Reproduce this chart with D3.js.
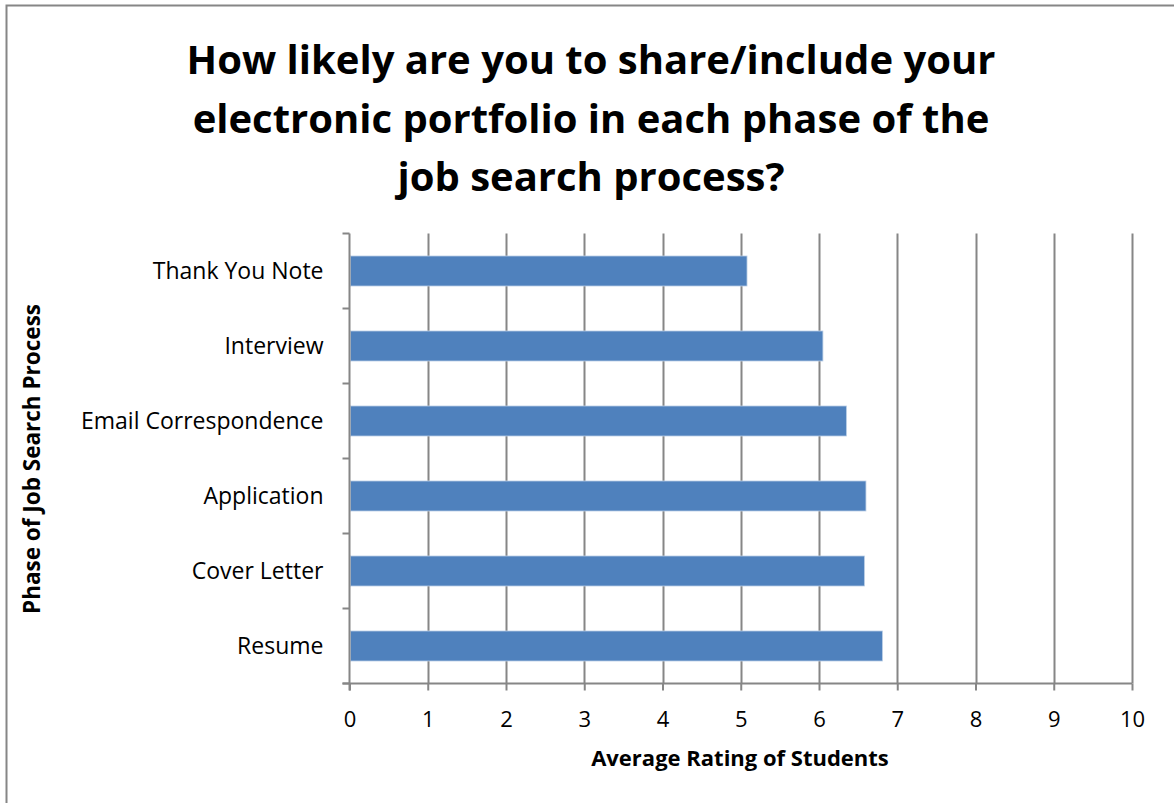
<!DOCTYPE html>
<html>
<head>
<meta charset="utf-8">
<script src="https://cdn.jsdelivr.net/npm/d3@7"></script>
<style>
  html, body { margin: 0; padding: 0; background: #fff; }
  svg { display: block; }
  text { font-family: "Open Sans", sans-serif; fill: #000; }
</style>
</head>
<body>
<svg id="chart" width="1174" height="803"></svg>
<script>
const categories = ["Thank You Note", "Interview", "Email Correspondence", "Application", "Cover Letter", "Resume"];
const values = [5.08, 6.05, 6.35, 6.60, 6.58, 6.81];
const xTicks = [0, 1, 2, 3, 4, 5, 6, 7, 8, 9, 10];
const titleLines = ["How likely are you to share/include your", "electronic portfolio in each phase of the", "job search process?"];
const xTitle = "Average Rating of Students";
const yTitle = "Phase of Job Search Process";

const svg = d3.select("#chart");
const plot = { left: 349.5, right: 1132, top: 233.5, bottom: 683.5 };
const gray = "#868686";
const font = "'Open Sans', sans-serif";

svg.append("rect").attr("x", 6.5).attr("y", 5.5).attr("width", 1200).attr("height", 1000)
  .attr("fill", "#fff").attr("stroke", gray).attr("stroke-width", 2);

const x = d3.scaleLinear().domain([0, 10]).range([plot.left, plot.right]);
const y = d3.scaleBand().domain(categories).range([plot.top, plot.bottom]).paddingInner(0.6).paddingOuter(0.3);

svg.append("g").selectAll("line").data(xTicks.filter(d => d > 0)).join("line")
  .attr("x1", d => Math.round(x(d)) + 0.5).attr("x2", d => Math.round(x(d)) + 0.5)
  .attr("y1", plot.top).attr("y2", plot.bottom)
  .attr("stroke", gray).attr("stroke-width", 2);

svg.append("g").selectAll("rect").data(categories).join("rect")
  .attr("x", x(0) + 1)
  .attr("y", d => y(d))
  .attr("width", (d, i) => x(values[i]) - x(0) - 1)
  .attr("height", y.bandwidth())
  .attr("fill", "#4F81BD")
  .attr("stroke", "#B9CDE5").attr("stroke-width", 0.8);

const xAxis = svg.append("g").attr("transform", `translate(0,${plot.bottom})`)
  .call(d3.axisBottom(x).tickValues(xTicks).tickSize(7).tickPadding(14).tickFormat(d3.format("d")));
xAxis.select(".domain").attr("stroke", gray).attr("stroke-width", 2)
  .attr("d", `M${plot.left - 7},0H${plot.right}`);
xAxis.selectAll(".tick line").attr("stroke", gray).attr("stroke-width", 2);
xAxis.selectAll(".tick text").attr("font-size", 22).attr("font-family", font).attr("fill", "#000")
  .attr("y", 43).attr("dy", 0);

const yBoundaries = d3.range(categories.length + 1).map(i => plot.top + i * y.step());
const yAxisG = svg.append("g");
yAxisG.append("line").attr("x1", plot.left).attr("x2", plot.left)
  .attr("y1", plot.top).attr("y2", plot.bottom + 7).attr("stroke", gray).attr("stroke-width", 2);
yAxisG.selectAll("line.tk").data(yBoundaries).join("line").attr("class", "tk")
  .attr("x1", plot.left - 7).attr("x2", plot.left)
  .attr("y1", d => d).attr("y2", d => d).attr("stroke", gray).attr("stroke-width", 2);
yAxisG.selectAll("text").data(categories).join("text")
  .attr("x", plot.left - 26).attr("y", d => y(d) + y.bandwidth() / 2)
  .attr("dy", "0.36em").attr("text-anchor", "end").attr("font-size", 23).text(d => d);

svg.append("g").selectAll("text").data(titleLines).join("text")
  .attr("x", 591).attr("y", (d, i) => 74 + i * 58.5)
  .attr("text-anchor", "middle").attr("font-size", 40).attr("font-weight", "bold").text(d => d);

svg.append("text").attr("x", 740).attr("y", 766).attr("text-anchor", "middle")
  .attr("font-size", 22).attr("font-weight", "bold").text(xTitle);
svg.append("text").attr("transform", "translate(40,459) rotate(-90)").attr("text-anchor", "middle")
  .attr("font-size", 22.5).attr("font-weight", "bold").text(yTitle);
</script>
</body>
</html>
